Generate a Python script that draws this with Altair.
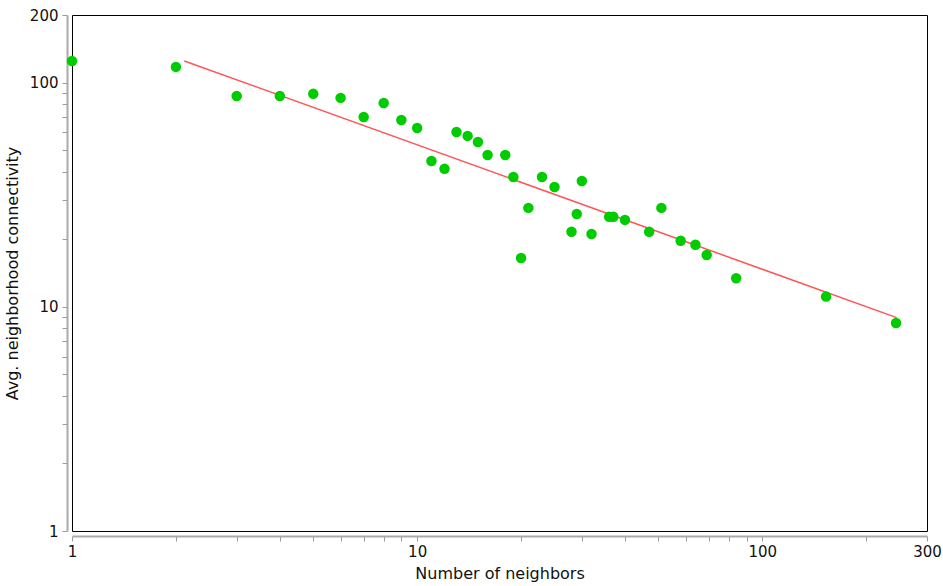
import altair as alt
import pandas as pd

# Data
neighbors = [1, 2, 3, 4, 5, 6, 7, 8, 9, 10, 11, 12, 13, 14, 15, 16, 18, 19, 20, 21,
             23, 25, 28, 29, 30, 32, 36, 37, 40, 47, 51, 58, 64, 69, 84, 153, 244]
connectivity = [124.8, 117.4, 87.1, 87.0, 89.0, 85.4, 70.2, 81.0, 68.1, 62.7, 44.7, 41.2,
                60.2, 57.8, 54.3, 47.5, 47.5, 37.9, 16.5, 27.6, 37.9, 34.2, 21.6, 25.9,
                36.4, 21.1, 25.2, 25.2, 24.4, 21.6, 27.6, 19.7, 18.9, 17.0, 13.4, 11.1, 8.47]

fit_x = [2.115, 245.0]
fit_y = [124.8, 8.94]

x_ticks = [1, 2, 3, 4, 5, 6, 7, 8, 9, 10, 20, 30, 40, 50, 60, 70, 80, 90, 100, 200, 300]
x_labels = [1, 10, 100, 300]
y_ticks = [1, 2, 3, 4, 5, 6, 7, 8, 9, 10, 20, 30, 40, 50, 60, 70, 80, 90, 100, 200]
y_labels = [1, 10, 100, 200]

pts = pd.DataFrame({"x": neighbors, "y": connectivity})
fit = pd.DataFrame({"x": fit_x, "y": fit_y})

def lab_expr(vals):
    arr = "[" + ",".join(str(v) for v in vals) + "]"
    return f"indexof({arr}, datum.value) >= 0 ? format(datum.value, 'd') : ''"

xscale = alt.Scale(type="log", domain=[1, 300], nice=False)
yscale = alt.Scale(type="log", domain=[1, 200], nice=False)

xaxis = alt.Axis(title="Number of neighbors", values=x_ticks, labelExpr=lab_expr(x_labels),
                 labelOverlap=False, labelFlush=False, grid=False, offset=5,
                 domainColor="#aaaaaa", domainWidth=2, tickColor="#999999", tickSize=5,
                 labelFont="DejaVu Sans", labelFontSize=15, labelColor="#111111", labelPadding=3,
                 titleFont="DejaVu Sans", titleFontSize=16, titleFontWeight="normal",
                 titleColor="#111111", titlePadding=6)
yaxis = alt.Axis(title="Avg. neighborhood connectivity", values=y_ticks, labelExpr=lab_expr(y_labels),
                 labelOverlap=False, labelFlush=False, grid=False, offset=5,
                 domainColor="#aaaaaa", domainWidth=2, tickColor="#999999", tickSize=5,
                 labelFont="DejaVu Sans", labelFontSize=15, labelColor="#111111", labelPadding=4,
                 titleFont="DejaVu Sans", titleFontSize=16, titleFontWeight="normal",
                 titleColor="#111111", titlePadding=9)

points = alt.Chart(pts).mark_circle(size=110, color="#00cc00", opacity=1).encode(
    x=alt.X("x:Q", scale=xscale, axis=xaxis),
    y=alt.Y("y:Q", scale=yscale, axis=yaxis),
)

line = alt.Chart(fit).mark_line(color="#ff5555", strokeWidth=1.5).encode(
    x=alt.X("x:Q", scale=xscale),
    y=alt.Y("y:Q", scale=yscale),
)

chart = alt.layer(line, points).properties(
    width=855, height=516,
    autosize=alt.AutoSizeParams(type="none"),
    padding={"left": 72, "top": 15, "right": 16, "bottom": 55},
    background="white",
).configure_view(stroke="black", strokeWidth=1)

chart.save("out.html", embed_options={"renderer": "svg", "actions": False})
